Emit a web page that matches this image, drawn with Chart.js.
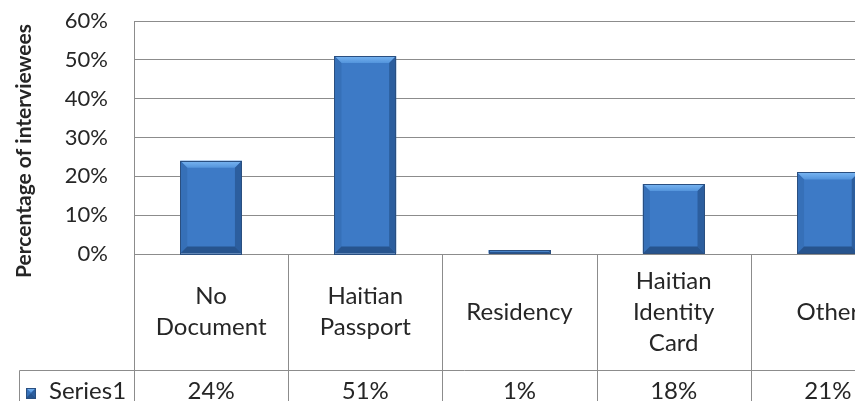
<!DOCTYPE html>
<html lang="en">
<head>
  <meta charset="UTF-8">
  <title>Documents held by interviewees</title>
  <style>
    body {
      margin: 0;
      background: #fff;
      overflow: hidden;
      width: 855px;
      height: 401px;
    }
    #wrap {
      width: 910px;
      height: 401px;
    }
  </style>
  <script src="https://cdn.jsdelivr.net/npm/chart.js"></script>
</head>
<body>
  <div id="wrap">
    <canvas id="docsChart" width="910" height="401"></canvas>
  </div>

  <script>
    // data
    const categories = [
      ['No', 'Document'],
      ['Haitian', 'Passport'],
      ['Residency'],
      ['Haitian', 'Identity', 'Card'],
      ['Other']
    ];
    const seriesName = 'Series1';
    const percentages = [24, 51, 1, 18, 21];
    const yTicks = [0, 10, 20, 30, 40, 50, 60];

    const GRID = '#8c8c8c';
    const TEXT = '#262626';
    const TABLE_ROW_Y = 370;
    const TABLE_LEFT = 19;

    // draws Excel-like bevelled faces on top of each bar
    function bevelBar(ctx, l, r, t, b) {
      const h = b - t;
      const s = Math.min(7, h / 2, (r - l) / 2);
      const top = ctx.createLinearGradient(0, t, 0, t + s);
      top.addColorStop(0, '#7ab6f2');
      top.addColorStop(1, '#5394dc');
      ctx.fillStyle = top;
      ctx.beginPath();
      ctx.moveTo(l, t); ctx.lineTo(r, t); ctx.lineTo(r - s, t + s); ctx.lineTo(l + s, t + s);
      ctx.closePath(); ctx.fill();

      ctx.fillStyle = '#3670b8';
      ctx.beginPath();
      ctx.moveTo(l, t); ctx.lineTo(l + s, t + s); ctx.lineTo(l + s, b - s); ctx.lineTo(l, b);
      ctx.closePath(); ctx.fill();

      ctx.fillStyle = '#2c5e9e';
      ctx.beginPath();
      ctx.moveTo(r, t); ctx.lineTo(r - s, t + s); ctx.lineTo(r - s, b - s); ctx.lineTo(r, b);
      ctx.closePath(); ctx.fill();

      ctx.fillStyle = '#27548e';
      ctx.beginPath();
      ctx.moveTo(l, b); ctx.lineTo(l + s, b - s); ctx.lineTo(r - s, b - s); ctx.lineTo(r, b);
      ctx.closePath(); ctx.fill();

      ctx.strokeStyle = '#2a4f80';
      ctx.lineWidth = 1;
      ctx.strokeRect(Math.round(l) + 0.5, Math.round(t) + 0.5, Math.round(r - l) - 1, Math.round(b - t));
    }

    const bevelPlugin = {
      id: 'bevel',
      afterDatasetsDraw(chart) {
        const ctx = chart.ctx;
        ctx.save();
        chart.getDatasetMeta(0).data.forEach(bar => {
          const p = bar.getProps(['x', 'y', 'base', 'width'], true);
          bevelBar(ctx, p.x - p.width / 2, p.x + p.width / 2, p.y, p.base);
        });
        ctx.restore();
      }
    };

    // data table underneath the plot, y-axis title
    const tablePlugin = {
      id: 'dataTable',
      afterDraw(chart) {
        const ctx = chart.ctx;
        const area = chart.chartArea;
        const x = chart.scales.x;
        const H = chart.height;
        const half = (x.getPixelForValue(1) - x.getPixelForValue(0)) / 2;
        ctx.save();
        ctx.strokeStyle = GRID;
        ctx.lineWidth = 1;

        // column dividers
        ctx.beginPath();
        for (let i = 0; i <= categories.length; i++) {
          const px = Math.round(x.getPixelForValue(i) - half) + 0.5;
          ctx.moveTo(px, area.bottom);
          ctx.lineTo(px, H);
        }
        // row divider and left edge of the series row
        ctx.moveTo(TABLE_LEFT + 0.5, TABLE_ROW_Y + 0.5);
        ctx.lineTo(chart.width, TABLE_ROW_Y + 0.5);
        ctx.moveTo(TABLE_LEFT + 0.5, TABLE_ROW_Y + 0.5);
        ctx.lineTo(TABLE_LEFT + 0.5, H);
        ctx.stroke();

        ctx.fillStyle = TEXT;
        ctx.textAlign = 'center';
        ctx.textBaseline = 'middle';
        ctx.font = '24px Lato';
        const headMid = (area.bottom + TABLE_ROW_Y) / 2;
        categories.forEach((lines, i) => {
          const cx = x.getPixelForValue(i);
          const y0 = headMid - (lines.length - 1) * 31 / 2;
          lines.forEach((ln, j) => ctx.fillText(ln, cx, y0 + j * 31));
          ctx.fillText(percentages[i] + '%', cx, 391);
        });

        // legend key
        const kx = 26, ky = 388, ks = 10;
        ctx.fillStyle = '#3d7ac6';
        ctx.fillRect(kx, ky, ks, ks);
        bevelBar(ctx, kx, kx + ks, ky, ky + ks);
        ctx.fillStyle = TEXT;
        ctx.textAlign = 'left';
        ctx.fillText(seriesName, 49, 391);

        // axis title
        ctx.translate(24, 151);
        ctx.rotate(-Math.PI / 2);
        ctx.textAlign = 'center';
        ctx.font = 'bold 21px Lato';
        ctx.fillText('Percentage of interviewees', 0, 0);
        ctx.restore();
      }
    };

    new Chart(document.getElementById('docsChart'), {
      type: 'bar',
      data: {
        labels: categories,
        datasets: [{
          label: seriesName,
          data: percentages,
          backgroundColor: '#3d7ac6',
          borderWidth: 0,
          categoryPercentage: 1,
          barPercentage: 0.4
        }]
      },
      options: {
        responsive: false,
        animation: false,
        layout: { padding: { left: 0, top: 21, right: 5, bottom: 147 } },
        plugins: {
          legend: { display: false },
          tooltip: { enabled: false }
        },
        scales: {
          x: { display: false },
          y: {
            min: 0,
            max: 60,
            afterFit(scale) {
              scale.width = 134;
              scale.paddingTop = 0;
              scale.paddingBottom = 0;
            },
            afterBuildTicks(scale) { scale.ticks = yTicks.map(v => ({ value: v })); },
            grid: { color: GRID, drawTicks: false },
            border: { color: GRID },
            ticks: {
              padding: 26,
              color: TEXT,
              font: { family: 'Lato', size: 22 },
              callback: v => v + '%'
            }
          }
        }
      },
      plugins: [bevelPlugin, tablePlugin]
    });
  </script>
</body>
</html>
